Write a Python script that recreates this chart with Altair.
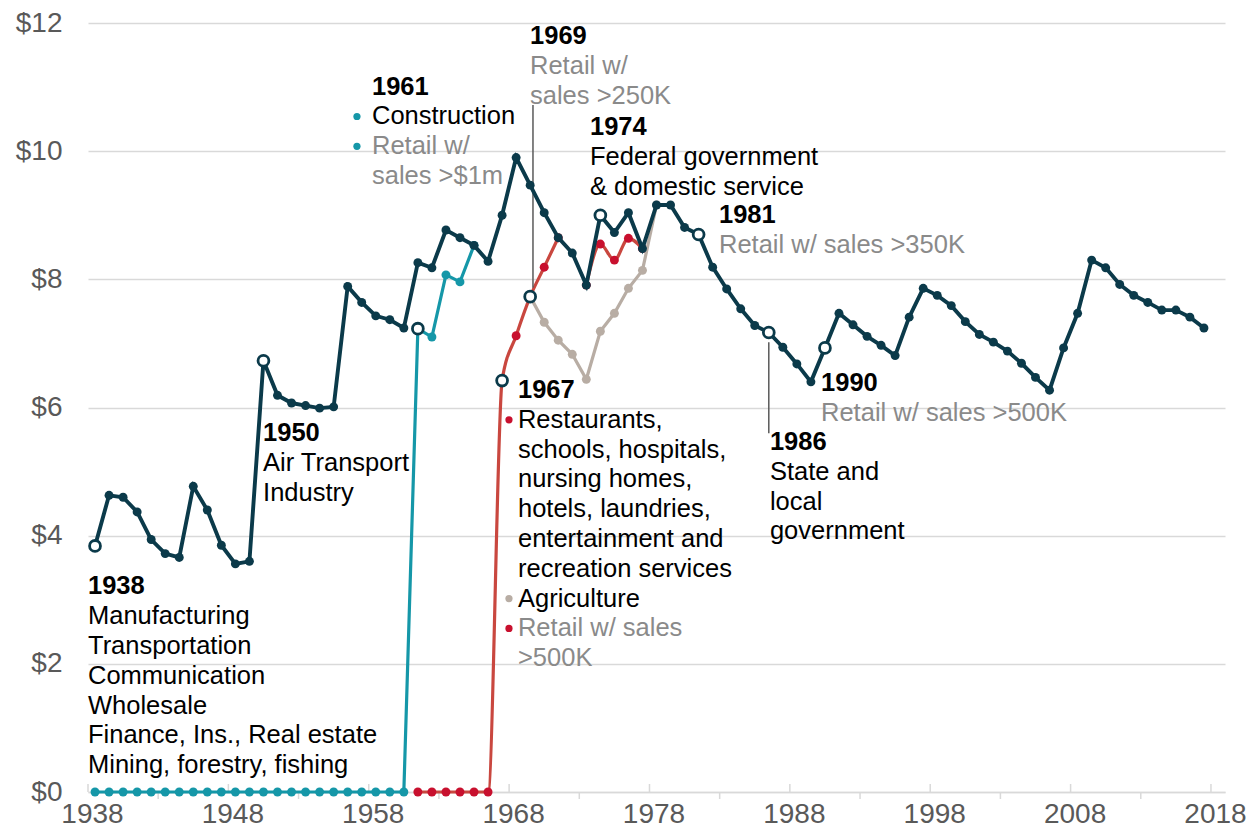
import altair as alt
import pandas as pd

# ---------------- data ----------------
years = list(range(1938, 2018))
real_min_wage = [3.84, 4.63, 4.60, 4.37, 3.94, 3.72, 3.66, 4.77, 4.40, 3.85,
                 3.56, 3.60, 6.73, 6.19, 6.07, 6.03, 5.99, 6.01, 7.89, 7.64,
                 7.43, 7.37, 7.24, 8.26, 8.18, 8.77, 8.65, 8.53, 8.28, 9.00,
                 9.90, 9.47, 9.04, 8.65, 8.41, 7.91, 9.00, 8.73, 9.04, 8.48,
                 9.16, 9.16, 8.81, 8.70, 8.19, 7.85, 7.54, 7.28, 7.17, 6.94,
                 6.68, 6.40, 6.93, 7.47, 7.29, 7.11, 6.97, 6.81, 7.41, 7.86,
                 7.75, 7.59, 7.34, 7.14, 7.02, 6.88, 6.69, 6.47, 6.27, 6.93,
                 7.47, 8.30, 8.18, 7.92, 7.75, 7.64, 7.52, 7.52, 7.41, 7.24]

teal_years = list(range(1938, 1966))
teal_vals = [0, 0, 0, 0, 0, 0, 0, 0, 0, 0, 0, 0, 0, 0, 0, 0, 0, 0, 0, 0, 0, 0, 0,
             7.23, 7.10, 8.07, 7.96, 8.53]

red_years_a = list(range(1961, 1972))
red_vals_a = [0, 0, 0, 0, 0, 0, 6.42, 7.12, 7.73, 8.19, 8.65]
red_years_b = list(range(1973, 1978))
red_vals_b = [7.91, 8.55, 8.30, 8.64, 8.48]

grey_years = list(range(1969, 1979))
grey_vals = [7.73, 7.33, 7.05, 6.83, 6.44, 7.19, 7.47, 7.86, 8.14, 9.16]

open_years = [1938, 1950, 1961, 1967, 1969, 1974, 1981, 1986, 1990]
open_vals = [3.84, 6.73, 7.23, 6.42, 7.73, 9.00, 8.70, 7.17, 6.93]

major_ticks = [1938, 1948, 1958, 1968, 1978, 1988, 1998, 2008, 2018]
minor_ticks = [1943, 1953, 1963, 1973, 1983, 1993, 2003, 2013]
y_ticks = [0, 2, 4, 6, 8, 10, 12]

# ---------------- styles ----------------
FONT = "Liberation Sans"
DARK = "#0B3A4A"
TEAL = "#1597A8"
RED_LINE = "#C9473F"
RED_DOT = "#C8102E"
GREY = "#B8ADA4"
TXT_GREY = "#8A8A8A"
AX_GREY = "#595959"
GRID = "#D9D9D9"
W, H = 1137, 769
LH = 0.465  # one text line (29.8 px) in dollars

def frame(yrs, vals, seg="a"):
    d = pd.DataFrame({"year": yrs, "value": vals, "seg": seg})
    d["x"] = d["year"] + 0.5   # points sit at the centre of each year's category
    return d

dark_df = frame(years, real_min_wage)
teal_df = frame(teal_years, teal_vals)
red_df = pd.concat([frame(red_years_a, red_vals_a, "a"), frame(red_years_b, red_vals_b, "b")])
grey_df = frame(grey_years, grey_vals)
open_df = frame(open_years, open_vals)

xscale = alt.Scale(domain=[1938, 2019], nice=False, zero=False)
yscale = alt.Scale(domain=[0, 12], nice=False, zero=False)

x_axis = alt.Axis(values=major_ticks, format="d", labelOffset=4, ticks=False,
                  grid=False, domain=True, domainColor=GRID, domainWidth=1.5,
                  labelFontSize=28, labelColor=AX_GREY, labelFont=FONT,
                  labelPadding=8, labelOverlap=False, labelFlush=False, title=None)
y_axis = alt.Axis(values=y_ticks, format="$.0f", grid=True, gridColor=GRID,
                  gridWidth=1.3, domain=False, ticks=False, labelFontSize=28,
                  labelColor=AX_GREY, labelFont=FONT, labelPadding=26, title=None)

X = alt.X("x:Q", scale=xscale, axis=x_axis, title=None)
Y = alt.Y("value:Q", scale=yscale, axis=y_axis, title=None)

maj_df = pd.DataFrame({"x": major_ticks, "value": 0})
min_df = pd.DataFrame({"x": minor_ticks, "value": 0})
up_ticks = alt.Chart(maj_df).mark_rule(color=GRID, strokeWidth=1.5, yOffset=-8, y2Offset=0).encode(
    x=X, y=Y, y2="value:Q")
down_ticks = alt.Chart(min_df).mark_rule(color=GRID, strokeWidth=1.5, yOffset=0, y2Offset=7).encode(
    x=X, y=Y, y2="value:Q")

def series(df, line_color, dot_color, width=3.4, interp="linear"):
    ln = alt.Chart(df).mark_line(color=line_color, strokeWidth=width, interpolate=interp).encode(
        x=X, y=Y, detail="seg:N", order="year:Q")
    pt = alt.Chart(df).mark_circle(color=dot_color, size=80, opacity=1).encode(x=X, y=Y)
    return ln + pt

teal_layer = series(teal_df, TEAL, TEAL, 3.2)
red_layer = series(red_df, RED_LINE, RED_DOT, 3.2, "monotone")
grey_layer = series(grey_df, GREY, GREY, 3.2)
dark_layer = series(dark_df, DARK, DARK, 3.9)

open_layer = alt.Chart(open_df).mark_point(shape="circle", filled=True, fill="white", stroke=DARK,
                                           strokeWidth=2.8, size=118, opacity=1).encode(x=X, y=Y)

# leader lines
lead_df = pd.DataFrame({"x": [1969.7, 1986.5], "value": [7.87, 7.02], "value2": [10.72, 5.60]})
leaders = alt.Chart(lead_df).mark_rule(color=AX_GREY, strokeWidth=1.5).encode(
    x=X, y=Y, y2="value2:Q")

# ---------------- annotations ----------------
blocks = [
    (1938.0, 3.207, [("1938", "b"), ("Manufacturing", "k"), ("Transportation", "k"),
                     ("Communication", "k"), ("Wholesale", "k"),
                     ("Finance, Ins., Real estate", "k"), ("Mining, forestry, fishing", "k")]),
    (1950.47, 5.602, [("1950", "b"), ("Air Transport", "k"), ("Industry", "k")]),
    (1958.23, 11.006, [("1961", "b"), ("Construction", "k"), ("Retail w/", "g"), ("sales >$1m", "g")]),
    (1969.49, 11.797, [("1969", "b"), ("Retail w/", "g"), ("sales >250K", "g")]),
    (1973.76, 10.377, [("1974", "b"), ("Federal government", "k"), ("& domestic service", "k")]),
    (1982.95, 9.004, [("1981", "b"), ("Retail w/ sales >350K", "g")]),
    (1986.58, 5.462, [("1986", "b"), ("State and", "k"), ("local", "k"), ("government", "k")]),
    (1990.22, 6.382, [("1990", "b"), ("Retail w/ sales >500K", "g")]),
    (1968.63, 6.273, [("1967", "b"), ("Restaurants,", "k"), ("schools, hospitals,", "k"),
                      ("nursing homes,", "k"), ("hotels, laundries,", "k"),
                      ("entertainment and", "k"), ("recreation services", "k"),
                      ("Agriculture", "k"), ("Retail w/ sales", "g"), (">500K", "g")]),
]
rows = []
for bx, by, lines in blocks:
    for i, (t, s) in enumerate(lines):
        rows.append({"x": bx, "value": by - i * LH, "text": t, "style": s,
                     "color": {"b": "#000000", "k": "#000000", "g": TXT_GREY}[s]})
ann = pd.DataFrame(rows)

bold_txt = alt.Chart(ann[ann["style"] == "b"]).mark_text(
    align="left", baseline="middle", font=FONT, fontSize=25.5, fontWeight="bold", color="#000000"
).encode(x=X, y=Y, text="text:N")
reg_txt = alt.Chart(ann[ann["style"] != "b"]).mark_text(
    align="left", baseline="middle", font=FONT, fontSize=25.5
).encode(x=X, y=Y, text="text:N", color=alt.Color("color:N", scale=None))

dot_df = pd.DataFrame({
    "x": [1957.16, 1957.16, 1967.99, 1967.99, 1967.99],
    "value": [11.006 - LH, 11.006 - 2 * LH, 6.273 - LH, 6.273 - 7 * LH, 6.273 - 8 * LH],
    "color": [TEAL, TEAL, RED_DOT, GREY, RED_DOT],
})
legend_dots = alt.Chart(dot_df).mark_circle(size=52, opacity=1).encode(
    x=X, y=Y, color=alt.Color("color:N", scale=None))

chart = alt.layer(
    up_ticks, down_ticks,
    teal_layer, red_layer, grey_layer, leaders, dark_layer, open_layer,
    bold_txt, reg_txt, legend_dots,
).properties(
    width=W, height=H,
    padding={"left": 80, "top": 15, "right": 21, "bottom": 40},
    autosize=alt.AutoSizeParams(type="none"),
    background="white",
).configure_view(stroke=None)

chart.save("out.html", embed_options={"renderer": "svg", "actions": False})
